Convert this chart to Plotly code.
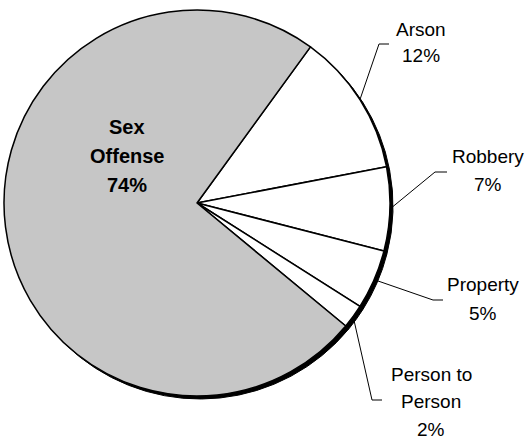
import math
import plotly.graph_objects as go

# ---- data ----
categories = ["Arson", "Robbery", "Property", "Person to Person", "Sex Offense"]
values = [12, 7, 5, 2, 74]
label_lines = [["Arson", "12%"], ["Robbery", "7%"], ["Property", "5%"],
               ["Person to", "Person", "2%"], ["Sex", "Offense", "74%"]]
colors = ["#ffffff", "#ffffff", "#ffffff", "#ffffff", "#c6c6c6"]

W, H = 525, 439
CX, CY, R = 197, 203, 193
ROT = 36
SH_DX, SH_DY = 3, 3


def px(x):
    return x / W


def py(y):
    return 1 - y / H


fig = go.Figure()

# shadow pie
fig.add_trace(go.Pie(
    labels=categories, values=values, sort=False, direction="clockwise",
    rotation=ROT, textinfo="none", hoverinfo="skip", showlegend=False,
    marker=dict(colors=["#000000"] * len(values), line=dict(color="#000000", width=1)),
    domain=dict(x=[px(CX - R + SH_DX), px(CX + R + SH_DX)],
                y=[py(CY + R + SH_DY), py(CY - R + SH_DY)]),
))

# main pie
fig.add_trace(go.Pie(
    labels=categories, values=values, sort=False, direction="clockwise",
    rotation=ROT, textinfo="none", showlegend=False,
    marker=dict(colors=colors, line=dict(color="#000000", width=1.5)),
    domain=dict(x=[px(CX - R), px(CX + R)], y=[py(CY + R), py(CY - R)]),
))

# label layout (positions only)
label_pos = {
    "Arson": dict(x=421, y=[29, 56], elbow=(379, 44), end=(389, 44)),
    "Robbery": dict(x=488, y=[156, 184], elbow=(435, 172), end=(447, 172)),
    "Property": dict(x=483, y=[284, 313], elbow=(433, 300), end=(443, 300)),
    "Person to Person": dict(x=431, y=[374, 401, 429], elbow=(372, 400), end=(382, 400)),
    "Sex Offense": dict(x=127, y=[127, 156, 185]),
}

total = sum(values)
cum = 0
annotations = []
shapes = []
for cat, v, lines in zip(categories, values, label_lines):
    mid = ROT + (cum + v / 2) / total * 360
    cum += v
    pos = label_pos[cat]
    bold = cat == "Sex Offense"
    for t, yy in zip(lines, pos["y"]):
        annotations.append(dict(
            x=px(pos["x"]), y=py(yy), xref="paper", yref="paper",
            text=f"<b>{t}</b>" if bold else t, showarrow=False,
            xanchor="center", yanchor="middle",
            font=dict(family="Liberation Sans, Arial, sans-serif",
                      size=20 if bold else 19, color="#000000"),
        ))
    if "elbow" in pos:
        th = math.radians(mid)
        sx = CX + R * math.sin(th)
        sy = CY - R * math.cos(th)
        ex, ey = pos["elbow"]
        fx, fy = pos["end"]
        shapes.append(dict(
            type="path", xref="paper", yref="paper",
            path=f"M {px(sx)} {py(sy)} L {px(ex)} {py(ey)} L {px(fx)} {py(fy)}",
            line=dict(color="#000000", width=1),
        ))

fig.update_layout(
    width=W, height=H, margin=dict(l=0, r=0, t=0, b=0),
    paper_bgcolor="#ffffff", plot_bgcolor="#ffffff",
    annotations=annotations, shapes=shapes, showlegend=False,
)

fig.write_html(
    "out.html",
    config={"displayModeBar": False},
    post_script="document.body.style.margin='0';document.body.style.overflow='hidden';",
)
